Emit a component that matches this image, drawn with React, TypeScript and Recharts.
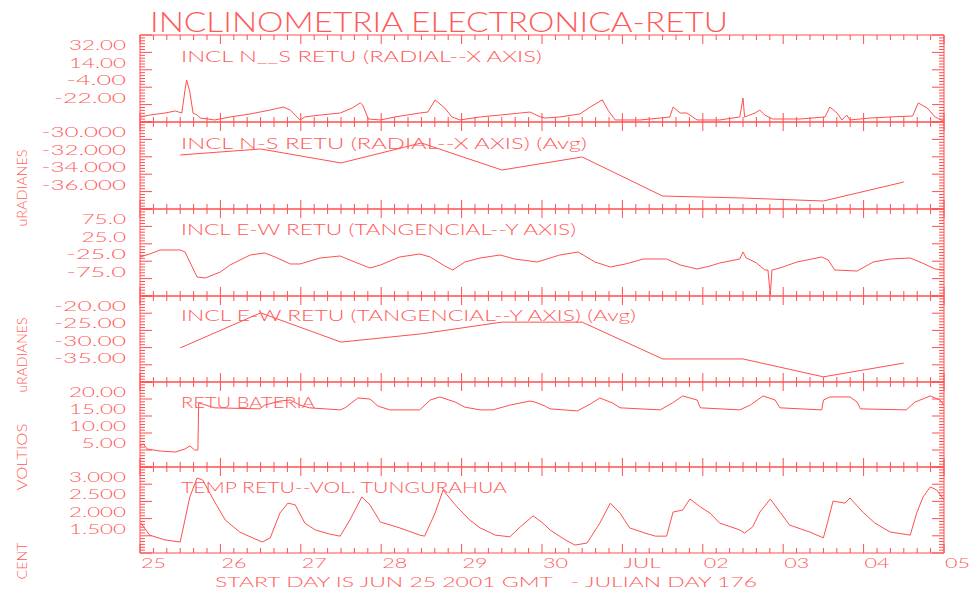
import { LineChart, Line, XAxis, YAxis } from 'recharts';

const RED = '#ff4f4f';
const INK = '#ff5a5a';
const FONT = 'Lato, "DejaVu Sans", sans-serif';

// marco de las 6 gráficas (px)
const W = 969;
const LEFT = 140;
const RIGHT = 944;
const PAD = 10;

// eje x: días desde 25 jun 2001 00:00 GMT, marcas cada 4 horas
const dayTicks = [0, 1, 2, 3, 4, 5, 6, 7, 8, 9, 10];
const dayLabels = ['25', '26', '27', '28', '29', '30', 'JUL', '02', '03', '04', '05'];
const hourTicks = Array.from({ length: 61 }, (_, i) => i / 6);

// INCL N__S (radial, eje X)
const nsTicks = [-22, -4, 14, 32];
const nsDomain: [number, number] = [-40, 50];
const nsTilt: [number, number][] = [
  [0.01, -34.8], [0.12, -32.8], [0.31, -30.7], [0.44, -28.6], [0.52, -30.7], [0.56, -6.9],
  [0.58, 3.4], [0.62, -9.0], [0.66, -30.7], [0.71, -32.8], [0.75, -35.9], [0.93, -37.9],
  [1.12, -34.8], [1.37, -31.7], [1.62, -27.6], [1.78, -24.5], [1.87, -27.6], [1.99, -37.9],
  [2.05, -34.8], [2.24, -32.8], [2.49, -30.7], [2.64, -25.5], [2.74, -20.3], [2.77, -22.4],
  [2.84, -36.9], [2.99, -37.9], [3.17, -34.8], [3.48, -30.7], [3.58, -29.7], [3.67, -17.2],
  [3.79, -25.5], [3.88, -34.8], [3.98, -37.9], [4.23, -34.8], [4.48, -32.8], [4.73, -30.7],
  [4.85, -29.7], [4.98, -34.8], [5.04, -35.9], [5.22, -34.8], [5.47, -31.7], [5.6, -24.5],
  [5.75, -17.2], [5.82, -27.6], [5.91, -37.9], [6.22, -37.9], [6.47, -35.9], [6.59, -34.8],
  [6.63, -24.5], [6.72, -30.7], [6.8, -30.7], [6.93, -37.9], [7.21, -37.9], [7.46, -34.8],
  [7.5, -15.2], [7.52, -34.8], [7.65, -30.7], [7.71, -27.6], [7.77, -32.8], [7.87, -36.9],
  [8.21, -36.9], [8.52, -34.8], [8.58, -24.5], [8.67, -30.7], [8.73, -37.9], [8.79, -32.8],
  [8.83, -37.9], [9.08, -35.9], [9.33, -34.8], [9.61, -33.8], [9.68, -20.3], [9.79, -25.5],
  [9.89, -34.8], [9.99, -39.0],
];

// INCL N-S promedio diario
const nsAvgTicks = [-36, -34, -32, -30];
const nsAvgDomain: [number, number] = [-38, -28];
const nsAvg: [number, number][] = [
  [0.5, -31.79], [1.5, -31.1], [2.5, -32.71], [3.5, -30.41], [4.5, -33.52],
  [5.5, -32.02], [6.5, -36.51], [7.5, -36.74], [8.5, -37.08], [9.5, -34.9],
];

// INCL E-W (tangencial, eje Y)
const ewTicks = [-75, -25, 25, 75];
const ewDomain: [number, number] = [-125, 125];
const ewTilt: [number, number][] = [
  [0, -12.9], [0.12, -4.3], [0.25, 7.2], [0.5, 7.2], [0.56, 1.4], [0.62, -27.3],
  [0.71, -70.4], [0.81, -73.3], [1.0, -56.0], [1.12, -35.9], [1.37, -7.2], [1.55, -1.4],
  [1.68, -12.9], [1.87, -33.0], [1.99, -33.0], [2.24, -15.8], [2.49, -10.1], [2.61, -21.6],
  [2.86, -44.5], [2.99, -35.9], [3.23, -12.9], [3.48, -4.3], [3.61, -12.9], [3.79, -38.8],
  [3.89, -50.3], [4.04, -27.3], [4.23, -15.8], [4.48, -7.2], [4.66, -18.7], [4.94, -27.3],
  [5.22, -7.2], [5.45, 1.4], [5.66, -27.3], [5.85, -41.7], [6.04, -33.0], [6.26, -18.7],
  [6.55, -18.7], [6.72, -35.9], [6.93, -47.4], [7.09, -38.8], [7.21, -30.2], [7.46, -18.7],
  [7.5, 1.4], [7.54, -15.8], [7.67, -30.2], [7.77, -50.3], [7.81, -50.3], [7.84, -122],
  [7.86, -50.3], [7.96, -44.5], [8.17, -27.3], [8.48, -12.9], [8.56, -21.6], [8.64, -50.3],
  [8.92, -53.2], [9.12, -27.3], [9.33, -18.7], [9.58, -15.8], [9.73, -30.2], [9.89, -47.4],
  [10.0, -50.3],
];

// INCL E-W promedio diario
const ewAvgTicks = [-35, -30, -25, -20];
const ewAvgDomain: [number, number] = [-40, -15];
const ewAvg: [number, number][] = [
  [0.5, -30.1], [1.5, -19.9], [2.5, -28.4], [3.5, -26.0], [4.5, -22.6],
  [5.5, -22.6], [6.5, -33.3], [7.5, -33.3], [8.5, -38.5], [9.5, -34.5],
];

// batería (voltios)
const batTicks = [5, 10, 15, 20];
const batDomain: [number, number] = [0, 25];
const battery: [number, number][] = [
  [0, 6.2], [0.04, 6.8], [0.09, 5.3], [0.25, 4.7], [0.44, 4.4], [0.56, 5.3], [0.62, 6.2],
  [0.68, 5.0], [0.72, 5.0], [0.73, 18.8], [0.78, 18.5], [0.93, 17.4], [1.49, 17.1],
  [1.55, 18.2], [1.74, 19.4], [1.87, 19.7], [1.99, 18.2], [2.11, 17.4], [2.49, 16.8],
  [2.55, 17.4], [2.71, 20.3], [2.86, 20.0], [2.96, 17.9], [3.11, 16.8], [3.48, 16.8],
  [3.61, 19.7], [3.73, 20.6], [3.92, 19.1], [4.04, 17.6], [4.23, 16.8], [4.39, 16.8],
  [4.6, 18.2], [4.85, 19.4], [4.91, 19.1], [5.04, 17.9], [5.1, 17.1], [5.44, 16.5],
  [5.6, 18.5], [5.72, 20.3], [5.88, 18.8], [5.97, 17.4], [6.47, 16.8], [6.62, 18.8],
  [6.75, 20.9], [6.93, 19.7], [6.97, 17.4], [7.46, 16.8], [7.59, 18.2], [7.75, 20.9],
  [7.9, 19.7], [7.96, 17.4], [8.48, 16.8], [8.5, 19.7], [8.58, 20.6], [8.83, 20.6],
  [8.92, 19.1], [8.96, 17.1], [9.53, 16.8], [9.64, 19.1], [9.83, 20.9], [9.95, 19.7],
  [10.0, 18.2],
];

// temperatura (°C)
const tempTicks = [1.5, 2.0, 2.5, 3.0];
const tempDomain: [number, number] = [1.0, 3.5];
const temperature: [number, number][] = [
  [0.01, 1.87], [0.12, 1.52], [0.31, 1.38], [0.5, 1.32], [0.62, 2.63], [0.71, 3.18],
  [0.78, 3.12], [0.93, 2.48], [1.06, 1.96], [1.24, 1.61], [1.43, 1.41], [1.52, 1.32],
  [1.62, 1.44], [1.74, 2.16], [1.84, 2.45], [1.93, 2.4], [2.05, 1.87], [2.18, 1.67],
  [2.36, 1.55], [2.49, 1.49], [2.61, 1.96], [2.76, 2.63], [2.86, 2.4], [2.99, 1.9],
  [3.23, 1.73], [3.48, 1.52], [3.54, 1.49], [3.67, 2.16], [3.77, 2.83], [3.92, 2.4],
  [4.1, 1.96], [4.23, 1.73], [4.42, 1.52], [4.6, 1.47], [4.73, 1.76], [4.89, 2.08],
  [5.01, 1.87], [5.1, 1.67], [5.29, 1.38], [5.41, 1.23], [5.56, 1.29], [5.72, 1.87],
  [5.85, 2.45], [5.97, 2.16], [6.09, 1.73], [6.28, 1.58], [6.41, 1.49], [6.55, 1.49],
  [6.63, 2.19], [6.75, 2.25], [6.84, 2.57], [6.97, 2.34], [7.09, 2.16], [7.21, 1.87],
  [7.46, 1.67], [7.52, 1.58], [7.62, 1.76], [7.71, 2.19], [7.84, 2.57], [7.96, 2.19],
  [8.08, 1.81], [8.33, 1.61], [8.5, 1.44], [8.56, 1.96], [8.62, 2.51], [8.77, 2.45],
  [8.83, 2.6], [8.99, 2.19], [9.14, 1.87], [9.33, 1.61], [9.58, 1.52], [9.66, 2.16],
  [9.74, 2.63], [9.83, 2.92], [9.91, 2.83], [10.0, 2.54],
];

// ancho aproximado de las cifras en la fuente vectorial original
const labelWidth = (s: string) =>
  [...s].reduce((w, c) => w + (c === '.' ? 7 : c === '-' ? 15 : 12.5), 0);

function XTick(props: any) {
  const { x, y, index, h, last } = props;
  const major = index % 6 === 0;
  const len = major ? 9 : 5;
  const label = major ? dayLabels[index / 6] : null;
  return (
    <g>
      <line x1={x} y1={y} x2={x} y2={y - len} stroke={RED} />
      <line x1={x} y1={y - h} x2={x} y2={y - h + len} stroke={RED} />
      {last && label && (
        <text x={x + 1} y={y + 15} fill={INK} fontFamily={FONT} fontWeight={300} fontSize={14}
          textLength={label.length * 12.5} lengthAdjust="spacingAndGlyphs">{label}</text>
      )}
    </g>
  );
}

function YTick(props: any) {
  const { x, y, index, payload, labels, digits } = props;
  const major = index % 6 === 0;
  const len = major ? 12 : 5;
  const plotW = RIGHT - LEFT;
  const hit = (labels as number[]).find(l => Math.abs(l - payload.value) < 1e-6);
  const txt = hit !== undefined ? hit.toFixed(digits) : null;
  return (
    <g>
      <line x1={x} y1={y} x2={x + len} y2={y} stroke={RED} />
      <line x1={x + plotW} y1={y} x2={x + plotW - len} y2={y} stroke={RED} />
      {txt && (
        <text x={126} y={y - 2} textAnchor="end" fill={INK} fontFamily={FONT} fontWeight={300}
          fontSize={14} textLength={labelWidth(txt)} lengthAdjust="spacingAndGlyphs">{txt}</text>
      )}
    </g>
  );
}

interface PanelProps {
  top: number;
  bottom: number;
  series: [number, number][];
  domain: [number, number];
  labels: number[];
  digits: number;
  last?: boolean;
}

function Panel({ top, bottom, series, domain, labels, digits, last }: PanelProps) {
  const h = bottom - top;
  const padB = last ? 24 : PAD;
  const rows = series.map(([t, v]) => ({ t, v }));
  const [lo, hi] = domain;
  const yTicks = Array.from({ length: 31 }, (_, i) => lo + (i * (hi - lo)) / 30);
  // los ejes ocupan 1px cada uno: se descuenta del margen para que el marco quede en LEFT/RIGHT
  return (
    <div style={{ position: 'absolute', left: 0, top: top - PAD }}>
      <LineChart width={W} height={h + PAD + padB} data={rows}
        margin={{ top: PAD - 1, right: W - RIGHT - 1, bottom: padB - 1, left: LEFT - 1 }}>
        <XAxis dataKey="t" type="number" domain={[0, 10]} ticks={hourTicks} interval={0}
          height={1} tickSize={0} tickMargin={0} tickLine={false} allowDataOverflow
          axisLine={{ stroke: RED }} tick={(p: any) => <XTick {...p} h={h} last={last} />} />
        <XAxis xAxisId="top" orientation="top" dataKey="t" type="number" domain={[0, 10]}
          ticks={dayTicks} height={1} tick={false} tickLine={false} axisLine={{ stroke: RED }} />
        <YAxis type="number" domain={domain} ticks={yTicks} interval={0} width={1}
          tickSize={0} tickMargin={0} tickLine={false} allowDataOverflow
          axisLine={{ stroke: RED }}
          tick={(p: any) => <YTick {...p} labels={labels} digits={digits} />} />
        <YAxis yAxisId="right" orientation="right" type="number" domain={domain} width={1}
          tick={false} tickLine={false} axisLine={{ stroke: RED }} />
        <Line dataKey="v" type="linear" stroke={RED} strokeWidth={1} dot={false}
          activeDot={false} isAnimationActive={false} />
      </LineChart>
    </div>
  );
}

const txt = { fill: INK, fontFamily: FONT, fontWeight: 300 } as const;

export default function App() {
  return (
    <div style={{ position: 'absolute', left: 0, top: 0, width: W, height: 589, background: '#fff' }}>
      <Panel top={35} bottom={122} series={nsTilt} domain={nsDomain} labels={nsTicks} digits={2} />
      <Panel top={122} bottom={209} series={nsAvg} domain={nsAvgDomain} labels={nsAvgTicks} digits={3} />
      <Panel top={209} bottom={296} series={ewTilt} domain={ewDomain} labels={ewTicks} digits={1} />
      <Panel top={296} bottom={382} series={ewAvg} domain={ewAvgDomain} labels={ewAvgTicks} digits={2} />
      <Panel top={382} bottom={467} series={battery} domain={batDomain} labels={batTicks} digits={2} />
      <Panel top={467} bottom={553} series={temperature} domain={tempDomain} labels={tempTicks} digits={3} last />

      {/* textos fijos: título, nombres de canal, unidades y pie */}
      <svg width={W} height={589} style={{ position: 'absolute', left: 0, top: 0, pointerEvents: 'none' }}>
        <text x={150} y={32} fontSize={27} textLength={578} lengthAdjust="spacingAndGlyphs" {...txt}>
          INCLINOMETRIA ELECTRONICA-RETU
        </text>
        <g fontSize={16.5}>
          <text x={181} y={62} textLength={361} lengthAdjust="spacingAndGlyphs" {...txt}>INCL N__S RETU (RADIAL--X AXIS)</text>
          <text x={181} y={149} textLength={406} lengthAdjust="spacingAndGlyphs" {...txt}>INCL N-S RETU (RADIAL--X AXIS) (Avg)</text>
          <text x={181} y={235} textLength={395} lengthAdjust="spacingAndGlyphs" {...txt}>INCL E-W RETU (TANGENCIAL--Y AXIS)</text>
          <text x={181} y={321} textLength={455} lengthAdjust="spacingAndGlyphs" {...txt}>INCL E-W RETU (TANGENCIAL--Y AXIS) (Avg)</text>
          <text x={181} y={408} textLength={134} lengthAdjust="spacingAndGlyphs" {...txt}>RETU BATERIA</text>
          <text x={181} y={493} textLength={326} lengthAdjust="spacingAndGlyphs" {...txt}>TEMP RETU--VOL. TUNGURAHUA</text>
        </g>
        <g fontSize={14}>
          <text x={27} y={188} textAnchor="middle" transform="rotate(-90 27 188)" textLength={77} lengthAdjust="spacingAndGlyphs" {...txt}>uRADIANES</text>
          <text x={27} y={355} textAnchor="middle" transform="rotate(-90 27 355)" textLength={75} lengthAdjust="spacingAndGlyphs" {...txt}>uRADIANES</text>
          <text x={27} y={457} textAnchor="middle" transform="rotate(-90 27 457)" textLength={67} lengthAdjust="spacingAndGlyphs" {...txt}>VOLTIOS</text>
          <text x={27} y={561} textAnchor="middle" transform="rotate(-90 27 561)" textLength={37} lengthAdjust="spacingAndGlyphs" {...txt}>CENT</text>
          <text x={215} y={587} textLength={542} lengthAdjust="spacingAndGlyphs" style={{ whiteSpace: 'pre' }} {...txt}>
            START DAY IS JUN 25 2001 GMT   - JULIAN DAY 176
          </text>
        </g>
      </svg>
    </div>
  );
}
